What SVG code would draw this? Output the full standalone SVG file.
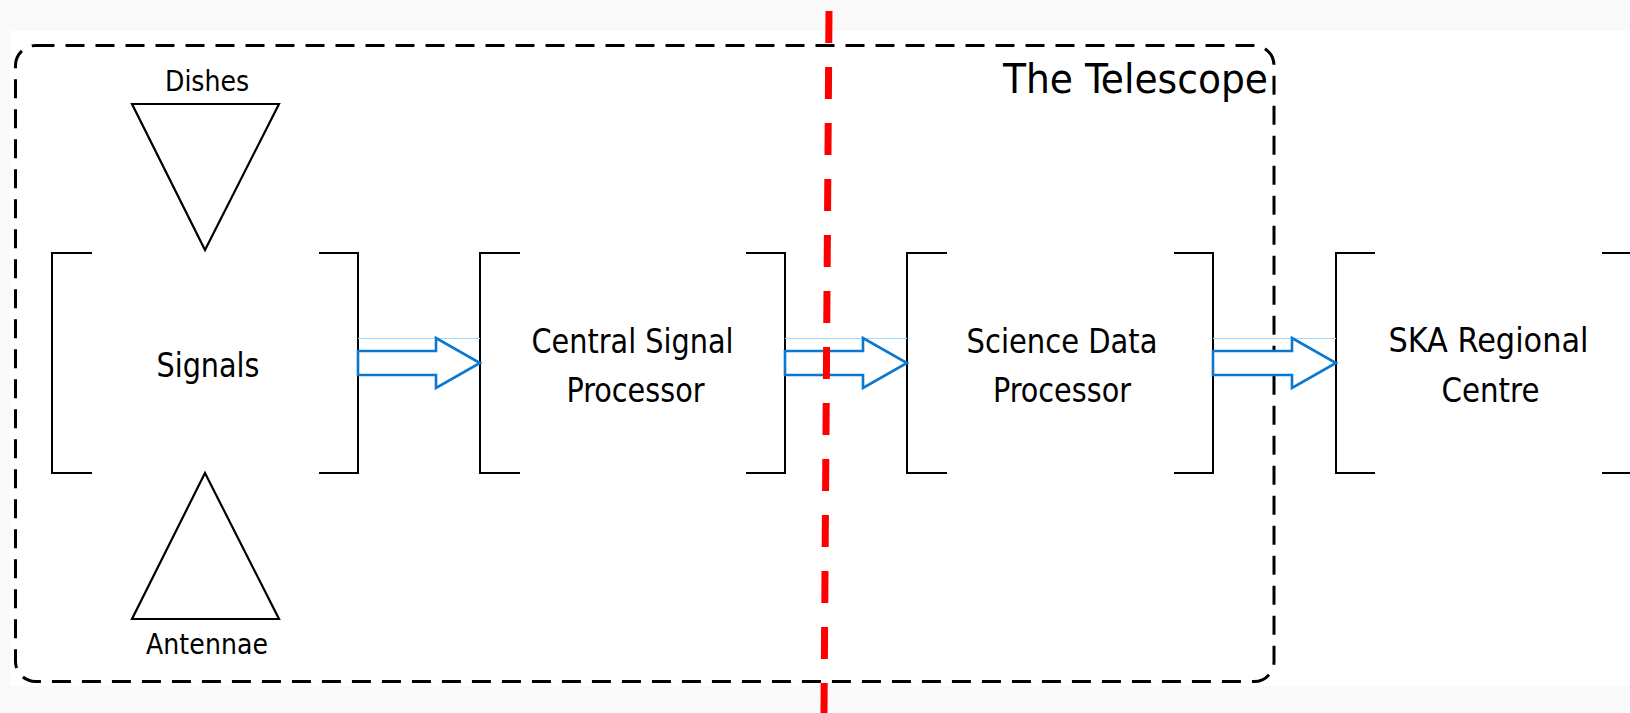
<svg xmlns="http://www.w3.org/2000/svg" width="1630" height="713" viewBox="0 0 1630 713">
<style>
.bg{fill:#f9f9f9}
.page{fill:#ffffff}
.bracket{fill:none;stroke:#000;stroke-width:2}
.tri{fill:none;stroke:#000;stroke-width:2.2;stroke-linejoin:miter}
.boundary{fill:none;stroke:#000;stroke-width:3;stroke-dasharray:19 11}
.arrow{fill:#fff;stroke:#0a78d0;stroke-width:2.6;stroke-linejoin:miter}
.guide{stroke:#a9d7f7;stroke-width:1}
.red{stroke:#ff0000;stroke-width:7;stroke-dasharray:32 24}
text{font-family:"DejaVu Sans Condensed","DejaVu Sans",sans-serif;font-stretch:condensed;fill:#000}
.lbl{font-size:33px;text-anchor:middle}
.small{font-size:28px;text-anchor:middle}
.title{font-size:41px}
</style>
<rect class="bg" x="0" y="0" width="1630" height="713"/>
<rect class="page" x="10" y="31" width="1620" height="655"/>

<g id="telescope">
<rect class="boundary" x="15.5" y="45.5" width="1258.5" height="636" rx="20" ry="20"/>
<text class="title" x="1003" y="93" textLength="265" lengthAdjust="spacingAndGlyphs">The Telescope</text>
</g>

<g id="dishes">
<polygon class="tri" points="132,104 279,104 205,250"/>
<text class="small" x="207" y="91" textLength="84">Dishes</text>
</g>

<g id="antennae">
<polygon class="tri" points="205,473 279,619 132,619"/>
<text class="small" x="207" y="654" textLength="122">Antennae</text>
</g>

<g id="signals">
<polyline class="bracket" points="92,253 52,253 52,473 92,473"/>
<polyline class="bracket" points="319,253 358,253 358,473 319,473"/>
<text class="lbl" x="208" y="377" textLength="103" lengthAdjust="spacingAndGlyphs">Signals</text>
</g>

<g id="csp">
<polyline class="bracket" points="520,253 480,253 480,473 520,473"/>
<polyline class="bracket" points="746,253 785,253 785,473 746,473"/>
<text class="lbl" x="632.5" y="353" textLength="202" lengthAdjust="spacingAndGlyphs">Central Signal</text>
<text class="lbl" x="635.5" y="402" textLength="138" lengthAdjust="spacingAndGlyphs">Processor</text>
</g>

<g id="sdp">
<polyline class="bracket" points="947,253 907,253 907,473 947,473"/>
<polyline class="bracket" points="1174,253 1213,253 1213,473 1174,473"/>
<text class="lbl" x="1062" y="353" textLength="191" lengthAdjust="spacingAndGlyphs">Science Data</text>
<text class="lbl" x="1062" y="402" textLength="138" lengthAdjust="spacingAndGlyphs">Processor</text>
</g>

<g id="src">
<polyline class="bracket" points="1375,253 1336,253 1336,473 1375,473"/>
<polyline class="bracket" points="1602,253 1642,253 1642,473 1602,473"/>
<text class="lbl" x="1488.5" y="352" textLength="200" lengthAdjust="spacingAndGlyphs">SKA Regional</text>
<text class="lbl" x="1490.5" y="402" textLength="98" lengthAdjust="spacingAndGlyphs">Centre</text>
</g>

<g id="connectors">
<line class="guide" x1="358" y1="338.5" x2="480" y2="338.5"/>
<line class="guide" x1="785" y1="338.5" x2="907" y2="338.5"/>
<line class="guide" x1="1213" y1="338.5" x2="1336" y2="338.5"/>
<polygon class="arrow" points="358,351 436,351 436,338 480,363 436,388 436,375 358,375"/>
<polygon class="arrow" points="785,351 863,351 863,338 907,363 863,388 863,375 785,375"/>
<polygon class="arrow" points="1213,351 1292,351 1292,338 1336,363 1292,388 1292,375 1213,375"/>
</g>

<g id="boundary-line">
<line class="red" x1="829" y1="11" x2="824" y2="713"/>
</g>
</svg>
